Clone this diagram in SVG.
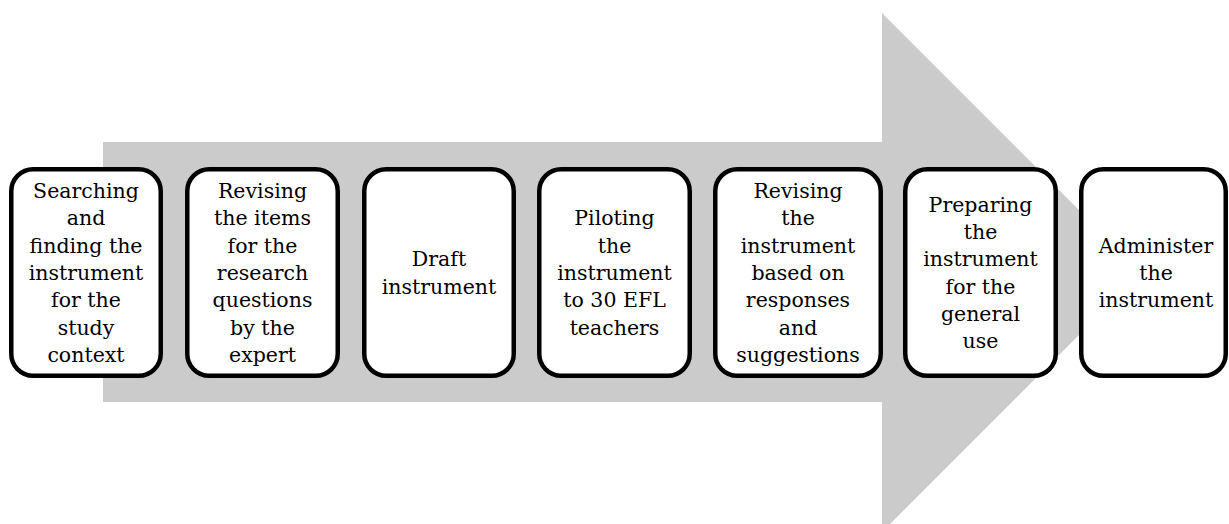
<svg xmlns="http://www.w3.org/2000/svg" width="1229" height="524" viewBox="0 0 1229 524">
<style>
.box{fill:#fff;stroke:#000;stroke-width:4.5}
.t{font-family:"DejaVu Serif",serif;font-size:20.5px;fill:#000;text-anchor:middle}
</style>
<rect width="1229" height="524" fill="#fff"/>
<g id="connectors">
<polygon points="103,142 882,142 882,13 1141.5,272.5 882,532 882,402 103,402" fill="#cbcbcb"/>
</g>
<g id="n1">
<rect class="box" x="11.25" y="169.25" width="149.5" height="206.5" rx="22"/>
<text class="t"><tspan x="86" y="198">Searching</tspan><tspan x="86" y="225.3">and</tspan><tspan x="86" y="252.6">finding the</tspan><tspan x="86" y="279.9">instrument</tspan><tspan x="86" y="307.2">for the</tspan><tspan x="86" y="334.5">study</tspan><tspan x="86" y="361.8">context</tspan></text>
</g>
<g id="n2">
<rect class="box" x="187.25" y="169.25" width="150.5" height="206.5" rx="22"/>
<text class="t"><tspan x="262.5" y="198">Revising</tspan><tspan x="262.5" y="225.3">the items</tspan><tspan x="262.5" y="252.6">for the</tspan><tspan x="262.5" y="279.9">research</tspan><tspan x="262.5" y="307.2">questions</tspan><tspan x="262.5" y="334.5">by the</tspan><tspan x="262.5" y="361.8">expert</tspan></text>
</g>
<g id="n3">
<rect class="box" x="364.25" y="169.25" width="149.5" height="206.5" rx="22"/>
<text class="t"><tspan x="439" y="266.3">Draft</tspan><tspan x="439" y="293.6">instrument</tspan></text>
</g>
<g id="n4">
<rect class="box" x="539.25" y="169.25" width="150.5" height="206.5" rx="22"/>
<text class="t"><tspan x="614.5" y="225.3">Piloting</tspan><tspan x="614.5" y="252.6">the</tspan><tspan x="614.5" y="279.9">instrument</tspan><tspan x="614.5" y="307.2">to 30 EFL</tspan><tspan x="614.5" y="334.5">teachers</tspan></text>
</g>
<g id="n5">
<rect class="box" x="715.25" y="169.25" width="165.5" height="206.5" rx="22"/>
<text class="t"><tspan x="798" y="198">Revising</tspan><tspan x="798" y="225.3">the</tspan><tspan x="798" y="252.6">instrument</tspan><tspan x="798" y="279.9">based on</tspan><tspan x="798" y="307.2">responses</tspan><tspan x="798" y="334.5">and</tspan><tspan x="798" y="361.8">suggestions</tspan></text>
</g>
<g id="n6">
<rect class="box" x="905.25" y="169.25" width="150.5" height="206.5" rx="22"/>
<text class="t"><tspan x="980.5" y="211.7">Preparing</tspan><tspan x="980.5" y="239">the</tspan><tspan x="980.5" y="266.3">instrument</tspan><tspan x="980.5" y="293.6">for the</tspan><tspan x="980.5" y="320.9">general</tspan><tspan x="980.5" y="348.2">use</tspan></text>
</g>
<g id="n7">
<rect class="box" x="1081.25" y="169.25" width="144.5" height="206.5" rx="22"/>
<text class="t"><tspan x="1156" y="252.6">Administer</tspan><tspan x="1156" y="279.9">the</tspan><tspan x="1156" y="307.2">instrument</tspan></text>
</g>
</svg>
